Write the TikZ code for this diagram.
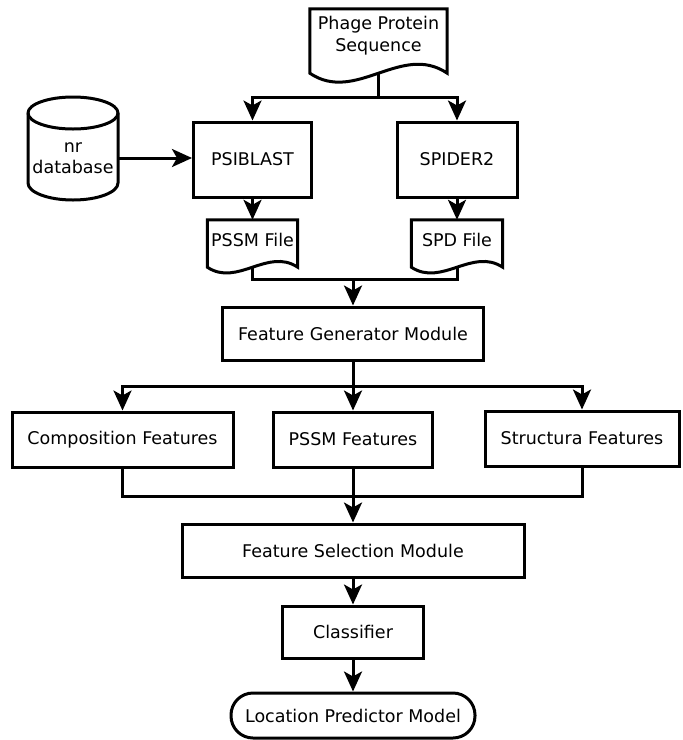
\documentclass[tikz,border=0pt]{standalone}
\usepackage{fontspec}
\setmainfont{DejaVu Sans}
\usepackage{tikz}
\usetikzlibrary{arrows.meta,calc}

\newcommand{\docshape}[2]{%
	\draw[line] (#1.north west) -- (#1.north east) -- (#1.south east)
		.. controls ($(#1.south east)!1/3!(#1.south west)+(0,-#2)$) and ($(#1.south east)!2/3!(#1.south west)+(0,#2)$) .. (#1.south west) -- cycle;
}

\begin{document}
\begin{tikzpicture}[x=1pt,y=-1pt,
		line/.style={line width=3pt},
		arr/.style={line width=3pt,-{Stealth[length=20pt,width=18pt,inset=5pt]}},
		txt/.style={font=\fontsize{17.5}{21.5}\selectfont,inner sep=0pt,align=center},
		box/.style={txt,draw,line width=3pt},
		doc/.style={txt}]
			\useasboundingbox (0,0) rectangle (683,740);

			\node[doc,minimum width=137pt,minimum height=64pt,text depth=14pt] (seq) at (378.5,41) {Phage Protein\\Sequence};
			\docshape{seq}{31}
			\node[txt,minimum width=90pt] (nrdb) at (73,158) {nr\\database};
			\draw[line] (28,113) arc[start angle=180,end angle=0,x radius=45pt,y radius=16pt] -- (118,183)
				arc[start angle=0,end angle=-180,x radius=45pt,y radius=17pt] -- cycle;
			\draw[line] (28,113) arc[start angle=180,end angle=360,x radius=45pt,y radius=16pt];

			\node[box,minimum width=118pt,minimum height=75pt] (psiblast) at (252.5,159.5) {PSIBLAST};
			\node[box,minimum width=120pt,minimum height=75pt] (spider) at (457,159.5) {SPIDER2};
			\node[doc,minimum width=90pt,minimum height=47pt,text depth=7pt] (pssmfile) at (252.5,243.5) {PSSM File};
			\docshape{pssmfile}{20}
			\node[doc,minimum width=91pt,minimum height=47pt,text depth=7pt] (spdfile) at (457,243.5) {SPD File};
			\docshape{spdfile}{20}

			\node[box,minimum width=261pt,minimum height=53pt] (fgm) at (353,333.5) {Feature Generator Module};
			\node[box,minimum width=221pt,minimum height=55pt] (comp) at (122.5,439.5) {Composition Features};
			\node[box,minimum width=159pt,minimum height=55pt] (pssmfeat) at (353,439.5) {PSSM Features};
			\node[box,minimum width=194pt,minimum height=55pt] (struct) at (582,438.5) {Structura Features};
			\node[box,minimum width=342pt,minimum height=53pt] (fsm) at (353,550.5) {Feature Selection Module};
			\node[box,minimum width=141pt,minimum height=52pt] (clf) at (353,632) {Classifier};
			\node[box,minimum width=244pt,minimum height=45pt,rounded corners=22pt] (pred) at (353,715.5) {Location Predictor Model};

			\coordinate (split1) at (378.5,97);
			\coordinate (join1) at (353,279);
			\coordinate (split2) at (353,386);
			\coordinate (join2) at (353,496);

			\draw[line] (seq.south) -- (split1);
			\draw[arr] (split1) -| (psiblast);
			\draw[arr] (split1) -| (spider);
			\draw[arr] (nrdb.east) -- (nrdb.east -| psiblast.west);
			\draw[arr] (psiblast) -- (pssmfile.north);
			\draw[arr] (spider) -- (spdfile.north);
			\draw[line] (pssmfile.south) |- (join1);
			\draw[line] (spdfile.south) |- (join1);
			\draw[arr] (join1) -- (fgm);

			\draw[line] (fgm) -- (split2);
			\draw[arr] (split2) -| (comp);
			\draw[arr] (split2) -| (struct);
			\draw[arr] (split2) -- (pssmfeat);
			\draw[line] (comp) |- (join2);
			\draw[line] (struct) |- (join2);
			\draw[arr] (pssmfeat) -- (fsm);
			\draw[arr] (fsm) -- (clf);
			\draw[arr] (clf) -- (pred);
		\end{tikzpicture}
\end{document}
